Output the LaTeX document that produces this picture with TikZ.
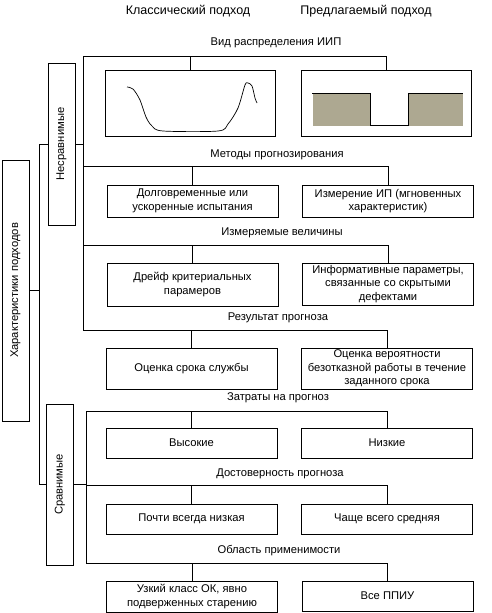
\documentclass[tikz,border=0pt]{standalone}
\usepackage{fontspec}
\setmainfont{Liberation Sans}
\definecolor{khaki}{RGB}{173,168,145}
\usetikzlibrary{positioning}

\begin{document}
\begin{tikzpicture}[x=1pt, y=1pt, line width=0.9pt,
    box/.style={draw, fill=white, minimum width=171pt, align=center,
      inner sep=1pt, font=\fontsize{11.2}{13.5}\selectfont},
    sidebox/.style={draw, fill=white, rotate=90, minimum height=27pt,
      inner sep=1pt, font=\fontsize{11.2}{13.5}\selectfont},
    lbl/.style={font=\fontsize{11.2}{13.5}\selectfont, inner sep=0pt},
    head/.style={font=\fontsize{12.5}{14}\selectfont, inner sep=0pt}]
  \useasboundingbox (0,0) rectangle (492,-613);

  % column titles
  \node[head] (tcl) at (188,-11) {Классический подход};
  \node[head] (tpr) at (366,-11) {Предлагаемый подход};

  % side boxes
  \node[sidebox, minimum width=261pt] (main) at (15.5,-290.5) {Характеристики подходов};
  \node[sidebox, minimum width=162pt] (gu) at (61.5,-144) {Несравнимые};
  \node[sidebox, minimum width=161pt] (gl) at (60,-484.5) {Сравнимые};

  % spines and branch lines
  \coordinate (tk) at (39,-290.5);
  \coordinate (h1) at (83,-56);
  \coordinate (h2) at (83,-166);
  \coordinate (h3) at (83,-245.5);
  \coordinate (h4) at (83,-330);
  \coordinate (h5) at (86,-411);
  \coordinate (h6) at (86,-485);
  \coordinate (h7) at (86,-563);

  \draw (main.south) -- (tk);
  \draw (tk |- gu.north) -- (tk |- gl.north);
  \draw (tk |- gu.north) -- (gu.north);
  \draw (tk |- gl.north) -- (gl.north);
  \draw (gu.south) -- (h1 |- gu.south);
  \draw (gl.south) -- (h5 |- gl.south);
  \draw (h1) -- (h4);
  \draw (h5) -- (h7);

  % row labels
  \node[lbl] (l1) at (276,-43) {Вид распределения ИИП};
  \node[lbl] (l2) at (277,-155) {Методы прогнозирования};
  \node[lbl] (l3) at (282,-233) {Измеряемые величины};
  \node[lbl] (l4) at (278,-318) {Результат прогноза};
  \node[lbl] (l5) at (278,-398) {Затраты на прогноз};
  \node[lbl] (l6) at (280,-474) {Достоверность прогноза};
  \node[lbl] (l7) at (279,-551) {Область применимости};

  % boxes
  \node[box, minimum width=170pt, minimum height=66pt] (pl) at (190,-103) {};
  \node[box, minimum width=170pt, minimum height=66pt] (pr) at (386,-103) {};
  \node[box, minimum height=32pt] (ml) at (192.5,-201) {Долговременные или\\ускоренные испытания};
  \node[box, minimum height=32pt] (mr) at (388,-201) {Измерение ИП (мгновенных\\характеристик)};
  \node[box, minimum height=43pt] (vl) at (192.5,-284.5) {Дрейф критериальных\\парамеров};
  \node[box, minimum height=42pt] (vr) at (388,-284) {Информативные параметры,\\связанные со скрытыми\\дефектами};
  \node[box, minimum height=41pt] (rl) at (191.5,-368.5) {Оценка срока службы};
  \node[box, minimum height=41pt] (rr) at (387,-368.5) {Оценка вероятности\\безотказной работы в течение\\заданного срока};
  \node[box, minimum height=30pt] (zl) at (191.5,-443) {Высокие};
  \node[box, minimum height=30pt] (zr) at (387,-443) {Низкие};
  \node[box, minimum height=30pt] (dl) at (191.5,-519) {Почти всегда низкая};
  \node[box, minimum height=30pt] (dr) at (387,-519) {Чаще всего средняя};
  \node[box, minimum height=31pt] (ol) at (192,-596.5) {Узкий класс ОК, явно\\подверженных старению};
  \node[box, minimum height=30pt] (or) at (387.5,-596) {Все ППИУ};

  \draw (h1) -| (pr.north);  \draw (pl.north) -- (pl.north |- h1);
  \draw (h2) -| (mr.north);  \draw (ml.north) -- (ml.north |- h2);
  \draw (h3) -| (vr.north);  \draw (vl.north) -- (vl.north |- h3);
  \draw (h4) -| (rr.north);  \draw (rl.north) -- (rl.north |- h4);
  \draw (h5) -| (zr.north);  \draw (zl.north) -- (zl.north |- h5);
  \draw (h6) -| (dr.north);  \draw (dl.north) -- (dl.north |- h6);
  \draw (h7) -| (or.north);  \draw (ol.north) -- (ol.north |- h7);

  % distribution sketches
  \draw[line width=0.7pt] plot[smooth, tension=0.5] coordinates {(127,-87) (133,-89)
    (140,-100) (146,-117) (152,-126) (163,-131) (218,-131) (228,-124) (238,-108)
    (245,-85) (248,-83) (252,-86) (255,-98) (257,-103)};
  \fill[khaki] (313,-93) rectangle (370,-126);
  \fill[khaki] (408,-93) rectangle (463,-126);
  \draw (312,-93) -- (370,-93) -- (370,-125.5) -- (408,-125.5) -- (408,-93) -- (463,-93);
\end{tikzpicture}
\end{document}
